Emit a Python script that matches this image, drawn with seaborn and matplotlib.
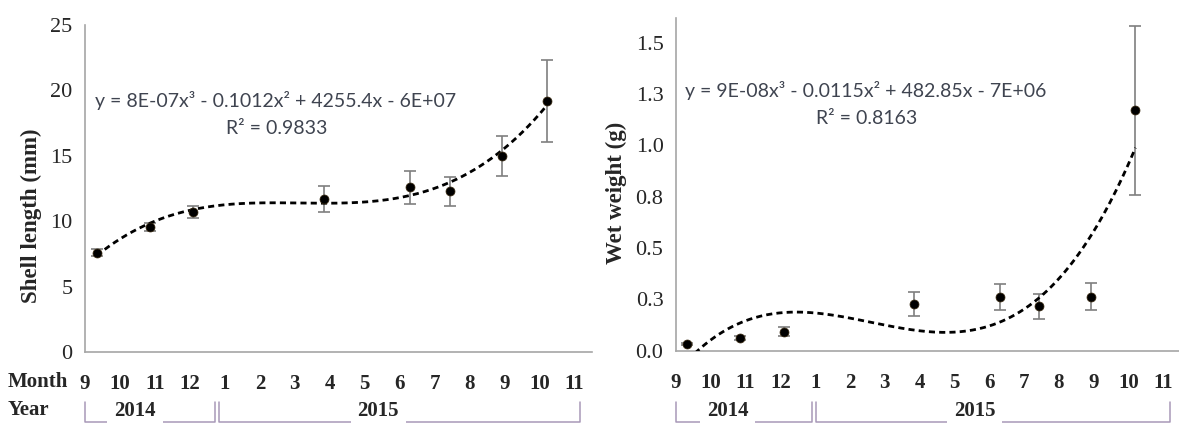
import numpy as np
import pandas as pd
import seaborn as sns
import matplotlib.pyplot as plt

# x axis: months counted from 1 Sep 2014
months = [9, 10, 11, 12, 1, 2, 3, 4, 5, 6, 7, 8, 9, 10, 11]
sample_x = [0.33, 1.85, 3.1, 6.84, 9.3, 10.44, 11.92, 13.2]

shell_len = [7.6, 9.55, 10.7, 11.7, 12.6, 12.3, 15.0, 19.2]
shell_err = [0.25, 0.3, 0.45, 1.0, 1.25, 1.1, 1.55, 3.15]

wet_wt = [0.031, 0.06, 0.093, 0.227, 0.261, 0.216, 0.262, 1.17]
wet_err = [0.005, 0.01, 0.02, 0.06, 0.065, 0.06, 0.066, 0.41]

eq_left = ["y = 8E-07x³ - 0.1012x² + 4255.4x - 6E+07", "R² = 0.9833"]
eq_right = ["y = 9E-08x³ - 0.0115x² + 482.85x - 7E+06", "R² = 0.8163"]

sns.set_style("white")
plt.rcParams['font.family'] = ['Liberation Serif', 'DejaVu Serif']

W, H = 1179, 423
fig = plt.figure(figsize=(W / 100, H / 100), dpi=100)
ax1 = fig.add_axes([85 / W, 1 - 352 / H, (592 - 85) / W, (352 - 25) / H])
ax2 = fig.add_axes([676 / W, 1 - 350.7 / H, (1179 - 676) / W, (350.7 - 18) / H])

grey = '#a6a6a6'
bold = dict(fontweight='bold', fontsize=15, family='Liberation Serif')


def style(ax, xmax):
    sns.despine(ax=ax)
    for s in ['left', 'bottom']:
        ax.spines[s].set_color(grey)
        ax.spines[s].set_linewidth(1.2)
    ax.set_xlim(0, xmax)
    ax.set_xticks(range(len(months)))
    ax.set_xticklabels(months, **bold)
    ax.tick_params(axis='x', direction='out', length=5, width=1.2, color=grey, pad=11)
    ax.tick_params(axis='y', length=0, pad=9, labelsize=16)
    ax.set_xlabel('')
    ax.set_ylabel('')


def draw(ax, y, err):
    ax.errorbar(sample_x, y, yerr=err, fmt='none', ecolor='#7f7f7f',
                elinewidth=1.2, capsize=4, capthick=1.2, zorder=2)
    coef = np.polyfit(sample_x, y, 3)
    xs = np.linspace(min(sample_x), max(sample_x), 300)
    sns.lineplot(x=xs, y=np.polyval(coef, xs), ax=ax, color='black',
                 linewidth=2, linestyle=(0, (2.2, 1.5)), zorder=4)
    sns.scatterplot(x=sample_x, y=y, ax=ax, color='black', s=42,
                    edgecolor='#3a2a10', linewidth=0.5, zorder=5)


def bracket(ax, bottom, height, spans, labels):
    tr = ax.get_xaxis_transform()
    yb = (bottom - 422) / height
    yt = (bottom - 402) / height
    ym = (bottom - 411) / height
    for (a, b), (xt, lab) in zip(spans, labels):
        ax.plot([a, a, b, b], [yt, yb, yb, yt], color='#a898b8', lw=1.1,
                transform=tr, clip_on=False)
        ax.text(xt, ym, lab, transform=tr, ha='center', va='center',
                bbox=dict(facecolor='white', edgecolor='none', pad=5), **bold)


draw(ax1, shell_len, shell_err)
style(ax1, 14.5)
ax1.set_ylim(0, 25)
ax1.set_yticks(range(0, 26, 5))
bracket(ax1, 352, 327, [(0, 3.72), (3.83, 14.17)], [(1.43, '2014'), (8.39, '2015')])

draw(ax2, wet_wt, wet_err)
style(ax2, 14.45)
ax2.set_ylim(0, 1.62)
ax2.set_yticks(np.arange(0, 1.51, 0.25))
ax2.set_yticklabels(['0.0', '0.3', '0.5', '0.8', '1.0', '1.3', '1.5'])
bracket(ax2, 350.7, 332.7, [(0, 3.92), (4.01, 14.2)], [(1.48, '2014'), (8.58, '2015')])

eq_style = dict(family='Lato', fontsize=14, color='#3f4450', ha='center', va='center')
fig.text(276 / W, 1 - 101 / H, eq_left[0], **eq_style)
fig.text(277 / W, 1 - 128 / H, eq_left[1], **eq_style)
fig.text(866 / W, 1 - 91 / H, eq_right[0], **eq_style)
fig.text(867 / W, 1 - 118 / H, eq_right[1], **eq_style)

fig.text(8 / W, 1 - 382 / H, 'Month', ha='left', va='center', **bold)
fig.text(8 / W, 1 - 410 / H, 'Year', ha='left', va='center', **bold)

lab = dict(fontweight='bold', fontsize=16.5, rotation=90, ha='center', va='center')
fig.text(31 / W, 1 - 216 / H, 'Shell length (mm)', **lab)
fig.text(616 / W, 1 - 193 / H, 'Wet weight (g)', **lab)

fig.savefig('out.png', dpi=100)
